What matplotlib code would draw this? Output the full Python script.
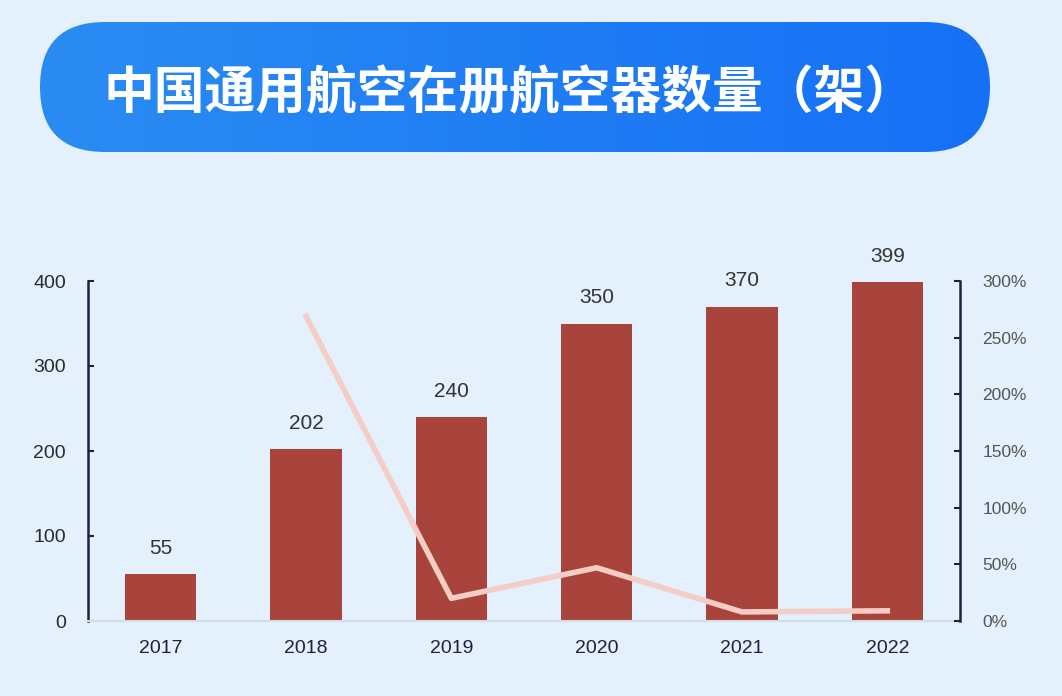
import numpy as np
import matplotlib
matplotlib.use("Agg")
import matplotlib.pyplot as plt
from matplotlib.patches import FancyBboxPatch
from matplotlib.colors import LinearSegmentedColormap
from matplotlib.ticker import FuncFormatter

# --- data ---
years = ["2017", "2018", "2019", "2020", "2021", "2022"]
aircraft = [55, 202, 240, 350, 370, 399]
growth_years = ["2018", "2019", "2020", "2021", "2022"]
growth_pct = [269, 20, 47, 8, 9]
title = "中国通用航空在册航空器数量（架）"

BG = "#e4f0fb"
BAR = "#a8443b"
LINE = "#f4cdc7"
NAVY = "#1c2340"

plt.rcParams['font.family'] = ['Liberation Sans', 'Noto Sans CJK SC']

W, H = 1062, 696
fig = plt.figure(figsize=(W / 100, H / 100), dpi=100)
fig.patch.set_facecolor(BG)

# title banner: pill shape, blue gradient left to right (pixel units)
bl, bt, bw, bh = 40, 22, 950, 130
bax = fig.add_axes([bl / W, 1 - (bt + bh) / H, bw / W, bh / H])
bax.set_xlim(0, bw)
bax.set_ylim(0, bh)
bax.axis("off")
cmap = LinearSegmentedColormap.from_list("banner", ["#2a8cf2", "#1670f6"])
grad = np.linspace(0, 1, 256).reshape(1, -1)
img = bax.imshow(grad, extent=[0, bw, 0, bh], aspect="auto", cmap=cmap, zorder=1)
pill = FancyBboxPatch((0, 0), bw, bh, boxstyle=f"round,pad=0,rounding_size={bh / 2}",
                      facecolor="none", edgecolor="none", transform=bax.transData)
bax.add_patch(pill)
img.set_clip_path(pill)
bax.text(470, bh / 2 - 7, title, ha="center", va="center", color="white",
         fontsize=36.5, fontweight="bold", family=['Noto Sans CJK SC'], zorder=3)

# main chart
ax = fig.add_axes([88 / W, 1 - 621 / H, (960 - 88) / W, (621 - 281) / H])
ax.set_facecolor(BG)
x = np.arange(len(years))
ax.bar(x, aircraft, width=0.49, color=BAR, zorder=2)
for xi, v in zip(x, aircraft):
    ax.text(xi, v + 19, str(v), ha="center", va="bottom", fontsize=15, color="#333333")

ax.set_xlim(-0.5, len(years) - 0.5)
ax.set_ylim(0, 400)
ax.set_yticks([0, 100, 200, 300, 400])
ax.set_xticks(x)
ax.set_xticklabels(years)
ax.tick_params(axis="x", length=0, pad=14, labelsize=14, labelcolor=NAVY)
ax.tick_params(axis="y", direction="in", length=4, width=1.5, color=NAVY,
               pad=16, labelsize=14, labelcolor="#2a2a2a")
for s in ["top", "right"]:
    ax.spines[s].set_visible(False)
ax.spines["left"].set_color(NAVY)
ax.spines["left"].set_linewidth(1.8)
ax.spines["bottom"].set_color("#d2dde8")
ax.spines["bottom"].set_linewidth(1.5)

ax2 = ax.twinx()
gx = [years.index(g) for g in growth_years]
ax2.plot(gx, growth_pct, color=LINE, linewidth=4, zorder=3, solid_joinstyle="round")
ax2.set_ylim(0, 300)
ax2.set_yticks(np.arange(0, 301, 50))
ax2.yaxis.set_major_formatter(FuncFormatter(lambda v, p: f"{int(v)}%"))
ax2.tick_params(axis="y", direction="in", length=4, width=1.5, color=NAVY,
                pad=16, labelsize=12.5, labelcolor="#555555")
for s in ["top", "left", "bottom"]:
    ax2.spines[s].set_visible(False)
ax2.spines["right"].set_color(NAVY)
ax2.spines["right"].set_linewidth(1.8)

fig.savefig("out.png", dpi=100, facecolor=BG)
